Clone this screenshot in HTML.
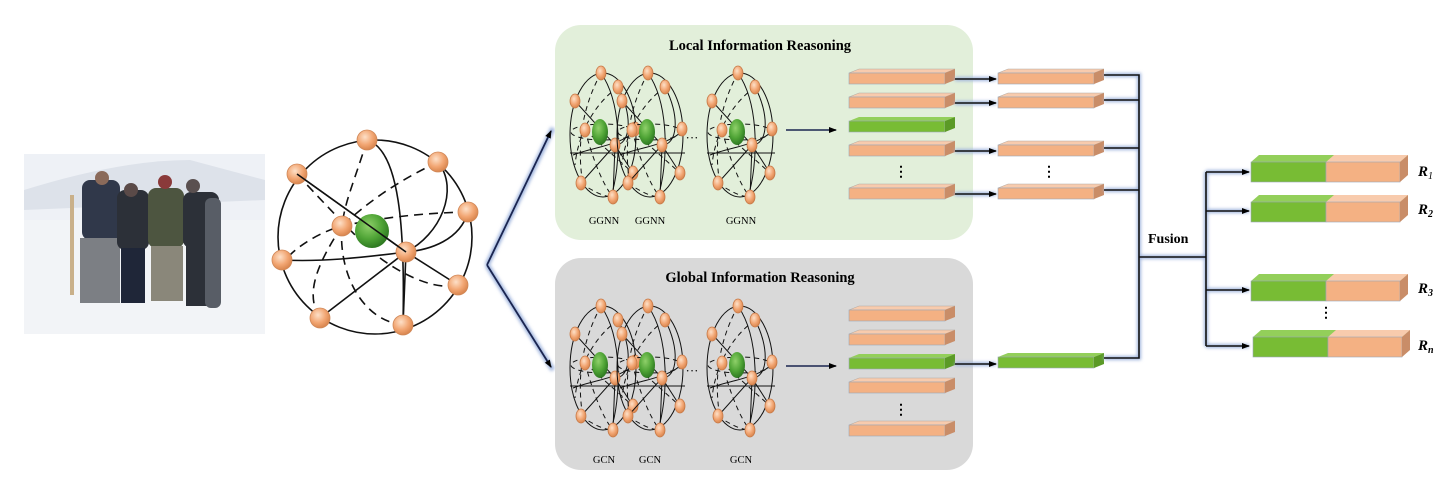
<!DOCTYPE html>
<html><head><meta charset="utf-8"><style>
html,body{margin:0;padding:0;background:#fff;}
svg{display:block;}
text{font-family:"Liberation Serif",serif;}
</style></head><body>
<svg width="1453" height="483" viewBox="0 0 1453 483" xmlns="http://www.w3.org/2000/svg">
<defs>
<radialGradient id="og" cx="40%" cy="35%" r="65%"><stop offset="0" stop-color="#fde0c8"/><stop offset="0.6" stop-color="#f2a673"/><stop offset="1" stop-color="#d9864f"/></radialGradient>
<radialGradient id="gg" cx="40%" cy="35%" r="65%"><stop offset="0" stop-color="#8fd06a"/><stop offset="0.6" stop-color="#4fa436"/><stop offset="1" stop-color="#2f7a22"/></radialGradient>
<marker id="ar" markerWidth="8" markerHeight="8" refX="7" refY="4" orient="auto" markerUnits="userSpaceOnUse"><path d="M0,1 L8,4 L0,7 z" fill="#000"/></marker>
<filter id="glow" x="-20%" y="-20%" width="140%" height="140%"><feGaussianBlur stdDeviation="1.5"/></filter>
<g id="ss" fill="none" stroke="#111" stroke-width="1">
  <ellipse cx="0" cy="0" rx="33" ry="62"/>
  <path d="M-2,-62 C 20,-30 18,30 8,62"/>
  <path d="M-30,20 C -10,12 20,10 33,-5"/>
  <path d="M-33,18 L35,18"/>
  <path d="M-28,-34 L12,10 L30,38"/>
  <path d="M12,10 L-22,48"/>
  <path d="M12,10 L10,62"/>
  <path d="M15,-48 C 30,-20 28,10 12,10"/>
  <g stroke-dasharray="5,4">
    <ellipse cx="0" cy="-3" rx="32" ry="8"/>
    <path d="M-2,-62 C -25,-20 -25,20 -20,50"/>
    <path d="M15,-48 C -10,-30 -25,0 -28,30"/>
    <path d="M-18,-5 C -10,25 0,50 10,62"/>
    <path d="M-18,-5 L30,38"/>
    <path d="M-22,48 C -5,60 5,62 10,62"/>
  </g>
  <g stroke="#c77a48" stroke-width="0.8" fill="url(#og)">
    <ellipse cx="-2" cy="-62" rx="5" ry="7"/>
    <ellipse cx="-28" cy="-34" rx="5" ry="7"/>
    <ellipse cx="15" cy="-48" rx="5" ry="7"/>
    <ellipse cx="32" cy="-6" rx="5" ry="7"/>
    <ellipse cx="-18" cy="-5" rx="5" ry="7"/>
    <ellipse cx="12" cy="10" rx="5" ry="7"/>
    <ellipse cx="30" cy="38" rx="5" ry="7"/>
    <ellipse cx="-22" cy="48" rx="5" ry="7"/>
    <ellipse cx="10" cy="62" rx="5" ry="7"/>
  </g>
  <ellipse cx="-3" cy="-3" rx="8" ry="13" fill="url(#gg)" stroke="none"/>
</g>
<g id="ob">
  <polygon points="0,4 10,0 106,0 96,4" fill="#f8cbad" stroke="#b0a8a0" stroke-width="0.5"/>
  <rect x="0" y="4" width="96" height="11" fill="#f4b183" stroke="#9aa6b8" stroke-width="0.6"/>
  <polygon points="96,4 106,0 106,11 96,15" fill="#c98d68"/>
</g>
<g id="gb">
  <polygon points="0,4 10,0 106,0 96,4" fill="#93cf5a"/>
  <rect x="0" y="4" width="96" height="11" fill="#78bc34" stroke="#9aa6b8" stroke-width="0.6"/>
  <polygon points="96,4 106,0 106,11 96,15" fill="#5b9a26"/>
</g>
<g id="rb">
  <polygon points="0,7 8,0 157,0 149,7" fill="#93cf5a"/>
  <polygon points="75,7 83,0 157,0 149,7" fill="#f8cbad"/>
  <rect x="0" y="7" width="75" height="20" fill="#78bc34" stroke="#9aa6b8" stroke-width="0.6"/>
  <rect x="75" y="7" width="74" height="20" fill="#f4b183" stroke="#9aa6b8" stroke-width="0.6"/>
  <polygon points="149,7 157,0 157,20 149,27" fill="#c98d68"/>
</g>
</defs>

<!-- photo -->
<rect x="24" y="154" width="241" height="180" fill="#eef1f6"/>
<path d="M24,190 Q120,160 190,160 L265,180 L265,200 L24,210 z" fill="#dde2ea"/>
<rect x="24" y="220" width="241" height="114" fill="#f2f4f7"/>
<g fill="#2c3038">
<rect x="82" y="180" width="38" height="60" rx="8" fill="#30384a"/>
<rect x="80" y="238" width="40" height="65" fill="#7c7f84"/>
<rect x="117" y="190" width="32" height="60" rx="8"/>
<rect x="121" y="248" width="24" height="55" fill="#1f2638"/>
<rect x="148" y="188" width="36" height="60" rx="8" fill="#4d5540"/>
<rect x="151" y="246" width="32" height="55" fill="#8a877a"/>
<rect x="183" y="192" width="36" height="56" rx="8"/>
<rect x="186" y="246" width="30" height="60"/>
<rect x="205" y="198" width="16" height="110" rx="6" fill="#585d66"/>
<rect x="70" y="195" width="4" height="100" fill="#c9b08a"/>
<circle cx="102" cy="178" r="7" fill="#8a6a5a"/>
<circle cx="131" cy="190" r="7" fill="#5a4a48"/>
<circle cx="165" cy="182" r="7" fill="#8a3a3a"/>
<circle cx="193" cy="186" r="7" fill="#5a5050"/>
</g>

<!-- big sphere -->
<g fill="none" stroke="#111" stroke-width="1.6">
<circle cx="375" cy="237" r="97"/>
<path d="M367,140 C 400,150 405,230 403,325"/>
<path d="M438,162 C 460,190 440,235 406,252"/>
<path d="M468,212 C 460,240 430,250 406,252"/>
<path d="M282,260 C 320,262 360,258 406,252"/>
<path d="M406,252 L320,318"/>
<path d="M297,174 L406,252 L458,285"/>
<path d="M406,252 L403,325"/>
<g stroke-dasharray="9,6">
<path d="M367,140 C 355,180 345,200 342,226"/>
<path d="M438,162 C 400,180 370,200 342,226"/>
<path d="M468,212 C 420,213 380,218 342,226 C 320,232 300,245 290,255"/>
<path d="M342,226 C 320,260 305,290 318,315"/>
<path d="M342,226 C 338,270 360,320 403,325"/>
<path d="M297,174 C 330,210 360,240 360,240"/>
<path d="M380,258 C 410,280 440,290 458,285"/>
</g>
</g>
<g fill="url(#og)" stroke="#d08858" stroke-width="0.8">
<circle cx="367" cy="140" r="10"/><circle cx="297" cy="174" r="10"/><circle cx="438" cy="162" r="10"/>
<circle cx="468" cy="212" r="10"/><circle cx="342" cy="226" r="10"/><circle cx="406" cy="252" r="10"/>
<circle cx="282" cy="260" r="10"/><circle cx="458" cy="285" r="10"/><circle cx="320" cy="318" r="10"/>
<circle cx="403" cy="325" r="10"/>
</g>
<circle cx="372" cy="231" r="17" fill="url(#gg)"/>
<path d="M297,174 L406,252" stroke="#111" stroke-width="1.6"/>

<!-- split arrows -->
<g stroke="#9fb4dd" stroke-width="5" fill="none" filter="url(#glow)"><path d="M487,265 L553,128"/><path d="M487,265 L553,370"/></g>
<path d="M487,265 L551,131" stroke="#1a2550" stroke-width="1.8" marker-end="url(#ar)"/>
<path d="M487,265 L551,367" stroke="#1a2550" stroke-width="1.8" marker-end="url(#ar)"/>

<!-- panels -->
<rect x="555" y="25" width="418" height="215" rx="26" fill="#e2efda"/>
<rect x="555" y="258" width="418" height="212" rx="26" fill="#d9d9d9"/>
<text x="760" y="50" font-size="14.5" font-weight="bold" text-anchor="middle">Local Information Reasoning</text>
<text x="760" y="282" font-size="14.5" font-weight="bold" text-anchor="middle">Global Information Reasoning</text>

<use href="#ss" x="603" y="135"/><use href="#ss" x="650" y="135"/><use href="#ss" x="740" y="135"/>
<use href="#ss" x="603" y="368"/><use href="#ss" x="650" y="368"/><use href="#ss" x="740" y="368"/>
<text x="692" y="142" font-size="13" text-anchor="middle">···</text>
<text x="692" y="375" font-size="13" text-anchor="middle">···</text>
<g font-size="10.5" text-anchor="middle">
<text x="604" y="224">GGNN</text><text x="650" y="224">GGNN</text><text x="741" y="224">GGNN</text>
<text x="604" y="463">GCN</text><text x="650" y="463">GCN</text><text x="741" y="463">GCN</text>
</g>
<path d="M786,130 L836,130" stroke="#1a2550" stroke-width="1.5" marker-end="url(#ar)"/>
<path d="M786,366 L836,366" stroke="#1a2550" stroke-width="1.5" marker-end="url(#ar)"/>

<!-- bars local -->
<use href="#ob" x="849" y="69"/><use href="#ob" x="849" y="93"/><use href="#gb" x="849" y="117"/>
<use href="#ob" x="849" y="141"/><use href="#ob" x="849" y="184"/>
<use href="#ob" x="998" y="69"/><use href="#ob" x="998" y="93"/>
<use href="#ob" x="998" y="141"/><use href="#ob" x="998" y="184"/>
<!-- bars global -->
<use href="#ob" x="849" y="306"/><use href="#ob" x="849" y="330"/><use href="#gb" x="849" y="354"/>
<use href="#ob" x="849" y="378"/><use href="#ob" x="849" y="421"/>
<use href="#gb" x="998" y="353"/>
<g font-size="14" text-anchor="middle" font-weight="bold">
<text x="901" y="176">⋮</text><text x="1049" y="176">⋮</text><text x="901" y="414">⋮</text><text x="1326" y="317">⋮</text>
</g>

<!-- connectors -->
<g stroke="#9fb4dd" stroke-width="4" fill="none" filter="url(#glow)">
<path d="M955,79 L996,79 M955,103 L996,103 M955,151 L996,151 M955,194 L996,194 M955,364 L996,364"/>
<path d="M1104,75 L1139,75 L1139,358 L1104,358 M1104,100 L1139,100 M1104,148 L1139,148 M1104,190 L1139,190"/>
<path d="M1139,257 L1206,257 M1206,172 L1206,346 M1206,172 L1249,172 M1206,211 L1249,211 M1206,290 L1249,290 M1206,346 L1249,346"/>
</g>
<g stroke="#111" stroke-width="1.6" fill="none">
<path d="M955,79 L996,79" marker-end="url(#ar)"/><path d="M955,103 L996,103" marker-end="url(#ar)"/>
<path d="M955,151 L996,151" marker-end="url(#ar)"/><path d="M955,194 L996,194" marker-end="url(#ar)"/>
<path d="M955,364 L996,364" marker-end="url(#ar)"/>
<path d="M1104,75 L1139,75 L1139,358 L1104,358 M1104,100 L1139,100 M1104,148 L1139,148 M1104,190 L1139,190"/>
<path d="M1139,257 L1206,257 M1206,172 L1206,346"/>
<path d="M1206,172 L1249,172" marker-end="url(#ar)"/><path d="M1206,211 L1249,211" marker-end="url(#ar)"/>
<path d="M1206,290 L1249,290" marker-end="url(#ar)"/><path d="M1206,346 L1249,346" marker-end="url(#ar)"/>
</g>
<text x="1148" y="243" font-size="14" font-weight="bold">Fusion</text>

<use href="#rb" x="1251" y="155"/><use href="#rb" x="1251" y="195"/>
<use href="#rb" x="1251" y="274"/><use href="#rb" x="1253" y="330"/>
<g font-size="15" font-style="italic" font-weight="bold">
<text x="1418" y="176">R<tspan font-size="10" dy="3" font-weight="normal">1</tspan></text>
<text x="1418" y="214">R<tspan font-size="10" dy="3">2</tspan></text>
<text x="1418" y="293">R<tspan font-size="10" dy="3">3</tspan></text>
<text x="1418" y="350">R<tspan font-size="10" dy="3">n</tspan></text>
</g>
</svg>
</body></html>
